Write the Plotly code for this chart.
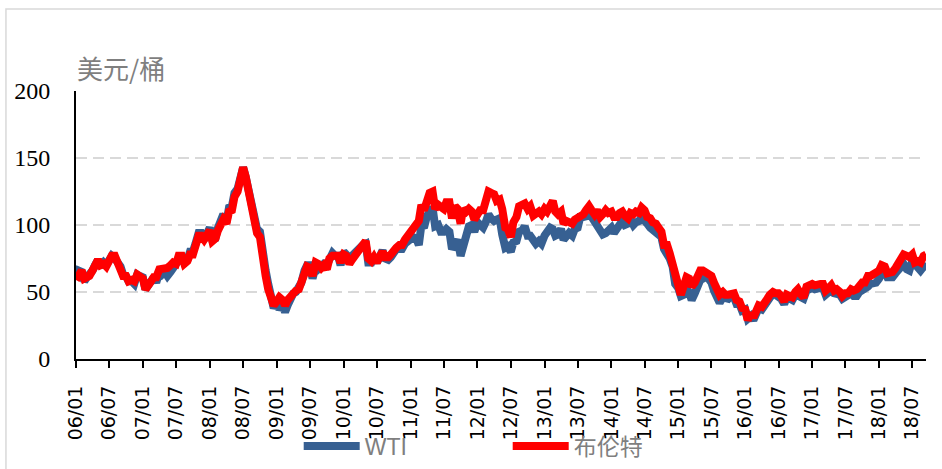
import pandas as pd
import plotly.graph_objects as go

# semi-monthly observation dates (1st and 15th of each month)
dates = pd.date_range("2006-01-01", "2018-09-15", freq="SMS")

wti = [
    61, 66, 65, 58, 61, 63, 66, 70, 74, 69, 72, 70, 73, 77, 75, 72, 69, 63, 62, 58, 58, 56, 63, 62,          # 2006
    61, 52, 57, 58, 61, 57, 65, 63, 65, 62, 65, 68, 71, 74, 77, 72, 74, 80, 80, 86, 94, 94, 89, 93,          # 2007
    98, 89, 90, 98, 103, 108, 102, 113, 114, 124, 127, 135, 143, 136, 124, 114, 109, 97, 95, 75, 66, 56, 48, 38,  # 2008
    42, 37, 40, 35, 40, 46, 49, 50, 53, 57, 66, 70, 70, 60, 69, 67, 69, 71, 70, 76, 79, 77, 77, 70,          # 2009
    80, 78, 73, 77, 79, 80, 84, 85, 86, 72, 72, 77, 72, 76, 81, 75, 74, 76, 81, 82, 82, 82, 86, 88,          # 2010
    91, 91, 90, 85, 100, 98, 107, 109, 113, 99, 100, 95, 95, 97, 95, 82, 88, 89, 77, 86, 93, 99, 100, 95,    # 2011
    102, 100, 98, 102, 108, 105, 103, 104, 105, 93, 83, 84, 80, 87, 88, 95, 96, 99, 92, 92, 87, 86, 88, 86,  # 2012
    92, 94, 98, 97, 92, 93, 97, 89, 92, 94, 92, 97, 98, 106, 106, 107, 107, 106, 102, 101, 95, 93, 94, 97,   # 2013
    98, 94, 97, 100, 103, 100, 101, 104, 100, 102, 103, 106, 104, 101, 98, 96, 94, 93, 91, 82, 79, 75, 69, 56,  # 2014
    53, 47, 48, 52, 50, 44, 49, 56, 59, 60, 61, 60, 57, 51, 47, 42, 46, 45, 45, 47, 46, 41, 41, 36,          # 2015
    37, 30, 32, 29, 34, 38, 37, 40, 44, 47, 49, 48, 47, 45, 41, 46, 45, 44, 48, 50, 46, 45, 51, 52,          # 2016
    53, 52, 53, 53, 53, 48, 50, 53, 49, 49, 48, 45, 46, 47, 49, 47, 47, 50, 51, 52, 54, 56, 57, 57,          # 2017
    60, 64, 65, 61, 61, 61, 64, 66, 67, 71, 67, 66, 73, 71, 68, 66, 69, 69,                                  # 2018
]

brent = [
    59, 63, 66, 60, 61, 62, 66, 70, 74, 70, 71, 69, 73, 77, 77, 73, 67, 62, 62, 58, 59, 58, 63, 62,          # 2006
    60, 52, 57, 58, 61, 61, 67, 67, 67, 68, 70, 72, 71, 77, 77, 71, 73, 78, 78, 84, 92, 92, 89, 92,          # 2007
    96, 88, 90, 96, 101, 104, 101, 110, 111, 121, 125, 133, 143, 136, 123, 112, 106, 94, 91, 73, 62, 52, 46, 40,  # 2008
    43, 46, 44, 40, 44, 47, 48, 51, 52, 57, 65, 69, 68, 62, 72, 71, 68, 70, 67, 75, 77, 77, 77, 72,          # 2009
    78, 77, 71, 74, 77, 79, 82, 87, 88, 75, 73, 76, 72, 76, 80, 76, 76, 78, 82, 83, 85, 85, 89, 92,          # 2010
    95, 98, 101, 103, 115, 111, 118, 124, 125, 112, 115, 113, 112, 117, 117, 105, 114, 112, 101, 112, 110, 112, 110, 104,  # 2011
    107, 111, 111, 118, 125, 124, 123, 118, 119, 112, 98, 97, 91, 102, 106, 114, 115, 116, 112, 114, 107, 109, 110, 108,  # 2012
    112, 110, 116, 118, 110, 108, 110, 101, 103, 102, 101, 104, 105, 107, 108, 111, 114, 111, 108, 111, 106, 108, 111, 109,  # 2013
    110, 106, 106, 109, 110, 107, 105, 109, 108, 110, 109, 113, 111, 106, 105, 102, 101, 98, 95, 85, 85, 79, 70, 61,  # 2014
    56, 48, 55, 61, 60, 54, 57, 63, 66, 66, 65, 63, 62, 57, 50, 48, 50, 48, 48, 49, 49, 44, 43, 38,          # 2015
    37, 29, 34, 31, 37, 40, 39, 43, 45, 48, 50, 49, 49, 47, 43, 48, 47, 46, 50, 52, 48, 46, 54, 55,          # 2016
    56, 55, 56, 56, 56, 51, 53, 55, 51, 52, 50, 47, 49, 49, 52, 51, 52, 55, 57, 57, 62, 62, 63, 64,          # 2017
    66, 70, 69, 64, 64, 65, 68, 71, 74, 78, 77, 76, 78, 72, 73, 72, 77, 78,                                  # 2018
]

series_names = ["WTI", "布伦特"]
y_ticks = [0, 50, 100, 150, 200]
unit_label = "美元/桶"

fig = go.Figure()
fig.add_trace(go.Scatter(x=dates, y=wti, name=series_names[0], mode="lines",
                         line=dict(color="#376092", width=8)))
fig.add_trace(go.Scatter(x=dates, y=brent, name=series_names[1], mode="lines",
                         line=dict(color="#FF0000", width=8)))

fig.update_layout(
    width=942, height=469,
    margin=dict(l=76, r=16, t=91, b=110, autoexpand=False),
    paper_bgcolor="white", plot_bgcolor="white",
    showlegend=True,
    legend=dict(orientation="h", x=0.262, xanchor="left", y=-0.325, yanchor="middle",
                font=dict(family="Liberation Sans, Noto Sans CJK SC", size=23, color="#7F7F7F"),
                itemwidth=56, entrywidthmode="pixels", entrywidth=138,
                bgcolor="rgba(0,0,0,0)"),
    xaxis=dict(type="date", range=["2006-01-01", "2018-09-14"], automargin=False,
               tick0="2006-01-01", dtick="M6", tickformat="%y/%m", tickangle=-90,
               ticks="outside", ticklen=7, tickwidth=2, tickcolor="black",
               ticklabelstandoff=10,
               showline=True, linecolor="black", linewidth=2,
               showgrid=False, zeroline=False,
               tickfont=dict(family="DejaVu Sans", size=19, color="black")),
    yaxis=dict(range=[0, 200], tickvals=y_ticks, ticks="", ticklabelstandoff=19,
               automargin=False,
               showline=True, linecolor="black", linewidth=2,
               showgrid=True, gridcolor="#D9D9D9", gridwidth=2, griddash="11px,6px",
               zeroline=False,
               tickfont=dict(family="Liberation Serif", size=24, color="black")),
    annotations=[dict(text=unit_label, xref="paper", yref="paper", x=0, y=1.086,
                      xanchor="left", yanchor="middle", xshift=-1, showarrow=False,
                      font=dict(family="Noto Sans CJK SC", size=26, color="#7F7F7F"))],
    shapes=[dict(type="rect", xref="paper", yref="paper", x0=-0.0824, y0=-0.6, x1=1.2, y1=1.306,
                 line=dict(color="#D9D9D9", width=1.5), layer="below")],
)

fig.write_html("out.html", config={"displayModeBar": False},
               post_script="document.body.style.margin='0';")
